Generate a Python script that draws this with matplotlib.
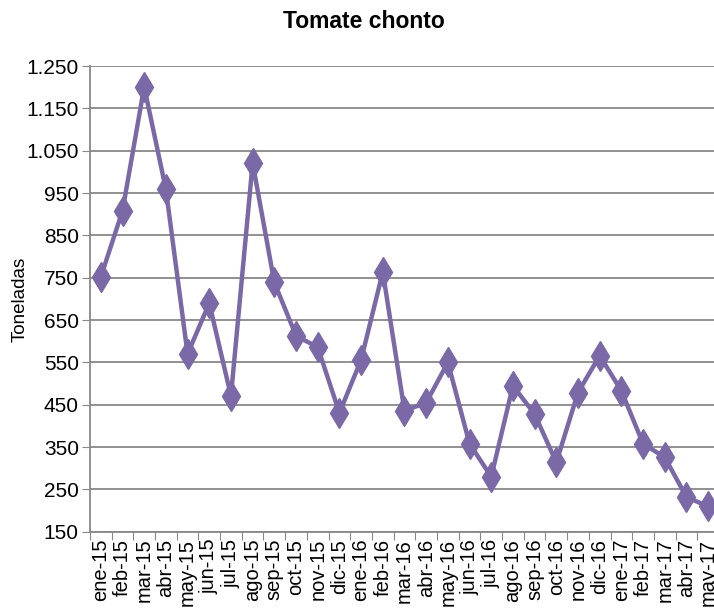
import numpy as np
import matplotlib.pyplot as plt
from matplotlib.ticker import FuncFormatter

meses = ['ene-15', 'feb-15', 'mar-15', 'abr-15', 'may-15', 'jun-15', 'jul-15',
         'ago-15', 'sep-15', 'oct-15', 'nov-15', 'dic-15',
         'ene-16', 'feb-16', 'mar-16', 'abr-16', 'may-16', 'jun-16', 'jul-16',
         'ago-16', 'sep-16', 'oct-16', 'nov-16', 'dic-16',
         'ene-17', 'feb-17', 'mar-17', 'abr-17', 'may-17']
toneladas = [752, 908, 1201, 959, 570, 690, 471, 1021, 739, 613, 586, 431,
             556, 764, 436, 455, 550, 358, 280, 495, 428, 314, 479, 566,
             483, 358, 326, 232, 210]
yticks = list(range(150, 1251, 100))

color = '#7B68A6'

plt.rcParams['font.family'] = ['Liberation Sans', 'DejaVu Sans']

fig = plt.figure(figsize=(7.14, 6.12), dpi=100)
ax = fig.add_axes([0.126, 0.131, 0.881, 0.761])

x = np.arange(len(meses))
ax.plot(x, toneladas, color=color, linewidth=3.2, marker='d', markersize=15.5,
        markerfacecolor=color, markeredgecolor=color, clip_on=False, zorder=3)

ax.set_ylim(150, 1250)
ax.set_xlim(-0.5, len(meses) - 0.5)
ax.set_yticks(yticks)
ax.yaxis.set_major_formatter(FuncFormatter(lambda v, p: f'{int(v):,}'.replace(',', '.')))

# ticks at category boundaries, labels at centres
ax.set_xticks(np.arange(len(meses) + 1) - 0.5)
ax.set_xticklabels([])
ax.set_xticks(x, minor=True)
ax.set_xticklabels(meses, minor=True, rotation=90, fontsize=14.5)
ax.tick_params(axis='x', which='minor', length=0, pad=5)
ax.tick_params(axis='x', which='major', length=6, color='#888888', direction='out')
ax.tick_params(axis='y', length=6, color='#888888', labelsize=15, pad=2)

ax.grid(axis='y', color='#888888', linewidth=1.3)
ax.set_axisbelow(True)
for s in ['top', 'right']:
    ax.spines[s].set_visible(False)
ax.spines['left'].set_color('#888888')
ax.spines['bottom'].set_color('#888888')
ax.spines['left'].set_linewidth(1.3)
ax.spines['bottom'].set_linewidth(1.3)

ax.set_ylabel('Toneladas', fontsize=13.5)
ax.yaxis.set_label_coords(-0.097, 0.5)
fig.text(0.51, 0.965, 'Tomate chonto', ha='center', va='center',
         fontsize=16.5, fontweight='bold')

fig.savefig('out.png', dpi=100)
